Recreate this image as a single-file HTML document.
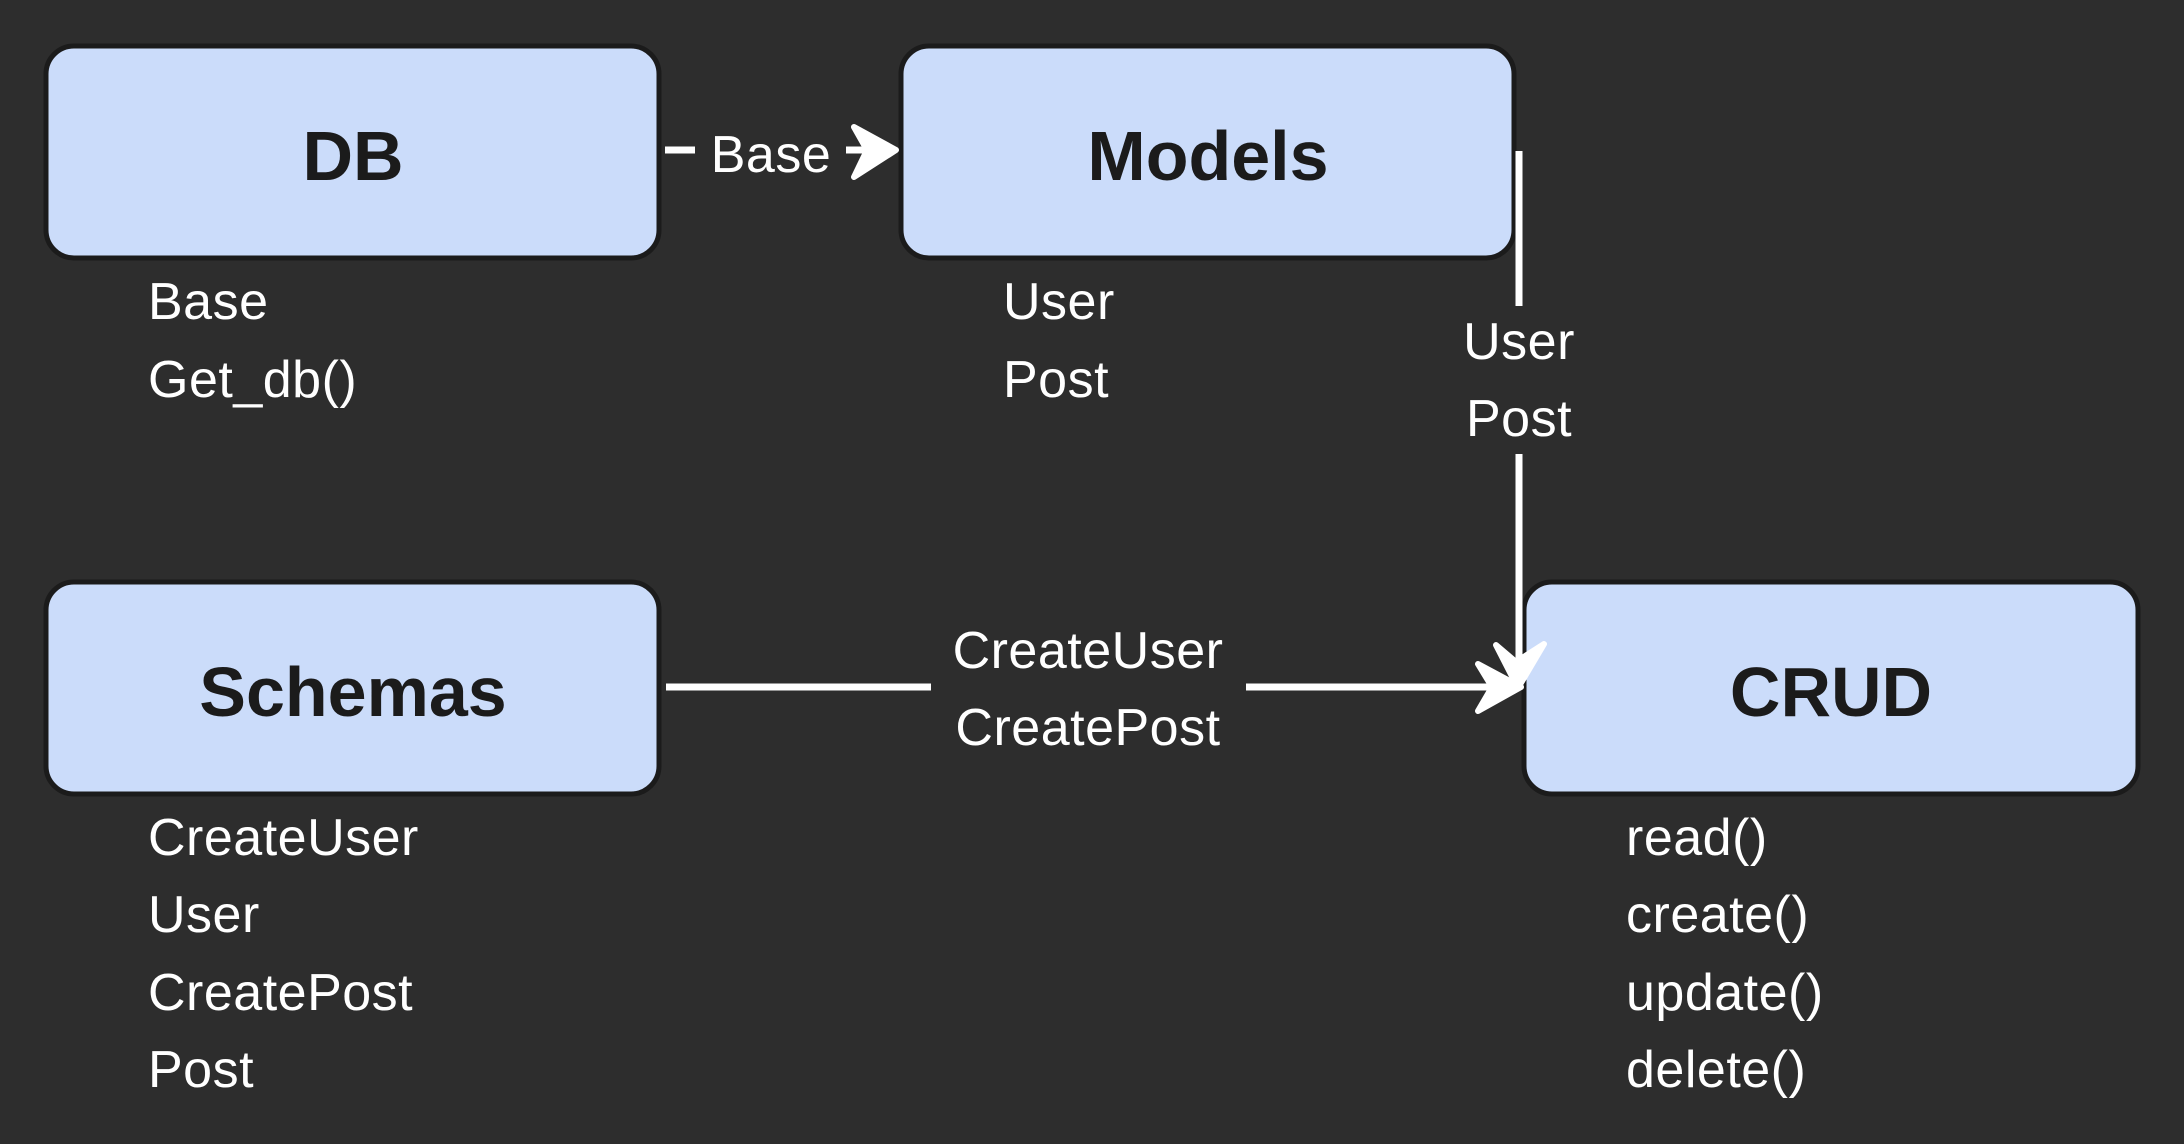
<!DOCTYPE html>
<html><head><meta charset="utf-8"><style>
html,body{margin:0;padding:0;background:#2d2d2d;}
svg{display:block;}
text{font-family:"Liberation Sans",sans-serif;}
.t{font-weight:bold;font-size:70px;fill:#1b1b1b;text-anchor:middle;}
.l{font-size:52px;fill:#ffffff;letter-spacing:0.5px;}
.c{text-anchor:middle;}
</style></head><body>
<svg width="2184" height="1144" viewBox="0 0 2184 1144" xmlns="http://www.w3.org/2000/svg">
<rect width="2184" height="1144" fill="#2d2d2d"/>
<g fill="#cbdcfa" stroke="#1b1b1b" stroke-width="5">
<rect x="46" y="46" width="613" height="212" rx="28"/>
<rect x="901" y="46" width="613" height="212" rx="28"/>
<rect x="46" y="582" width="613" height="212" rx="28"/>
<rect x="1524" y="582" width="614" height="212" rx="28"/>
</g>
<text class="t" x="353" y="180">DB</text>
<text class="t" x="1208" y="180">Models</text>
<text class="t" x="353" y="716">Schemas</text>
<text class="t" x="1831" y="716">CRUD</text>

<text class="l" x="148" y="319">Base</text>
<text class="l" x="148" y="397">Get_db()</text>
<text class="l" x="1003" y="319">User</text>
<text class="l" x="1003" y="397">Post</text>
<text class="l" x="148" y="855">CreateUser</text>
<text class="l" x="148" y="932">User</text>
<text class="l" x="148" y="1010">CreatePost</text>
<text class="l" x="148" y="1087">Post</text>
<text class="l" x="1626" y="855">read()</text>
<text class="l" x="1626" y="932">create()</text>
<text class="l" x="1626" y="1010">update()</text>
<text class="l" x="1626" y="1087">delete()</text>

<!-- DB -> Models -->
<g stroke="#fff" stroke-width="7" fill="none">
<line x1="665" y1="150" x2="695" y2="150"/>
<line x1="846" y1="150" x2="866" y2="150"/>
<line x1="1519" y1="151" x2="1519" y2="306"/>
<line x1="1519" y1="454" x2="1519" y2="665"/>
<line x1="666" y1="687" x2="931" y2="687"/>
<line x1="1246" y1="687" x2="1505" y2="687"/>
</g>
<g fill="#fff" stroke="#fff" stroke-width="6" stroke-linejoin="round">
<path d="M896,150 L854,127 L867,150 L854,177 Z"/>
<path d="M1521,687 L1478,664 L1492,687 L1478,711 Z"/>
<path d="M1518,688 L1496,645 L1516,662 L1544,644 Z"/>
</g>
<text class="l c" x="771" y="172">Base</text>
<text class="l c" x="1519" y="359">User</text>
<text class="l c" x="1519" y="436">Post</text>
<text class="l c" x="1088" y="668">CreateUser</text>
<text class="l c" x="1088" y="745">CreatePost</text>
</svg>
</body></html>
